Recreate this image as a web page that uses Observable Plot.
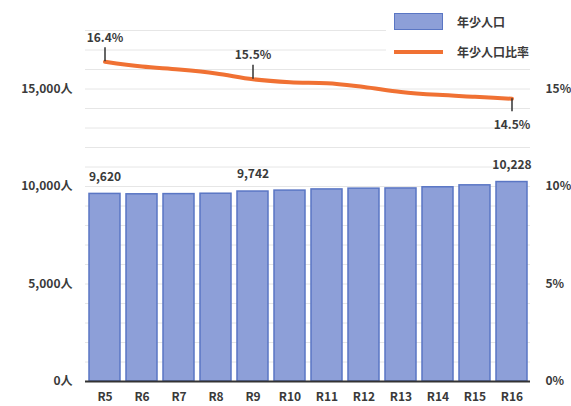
<!DOCTYPE html>
<html>
<head>
<meta charset="utf-8">
<script src="https://cdn.jsdelivr.net/npm/d3@7"></script>
<script src="https://cdn.jsdelivr.net/npm/@observablehq/plot@0.6"></script>
<style>
  html, body { margin: 0; padding: 0; background: #fff; }
  #wrap { position: relative; width: 571px; height: 406px; font-family: "Noto Sans CJK JP", "Noto Sans", sans-serif; color: #3a3a3a; }
  #legend { position: absolute; left: 386px; top: 4px; width: 172px; height: 60px; background: #fff; }
  .item { position: absolute; left: 8px; display: flex; align-items: center; font-size: 12px; font-weight: 700; }
  .swatch-bar { width: 47px; height: 15px; background: #8d9fd8; border: 1.5px solid #5a76c4; margin-right: 14px; }
  .swatch-line { width: 49px; height: 4px; background: #f07133; margin-right: 14px; }
  svg { overflow: visible; }
</style>
</head>
<body>
<div id="wrap">
  <div id="chart"></div>
  <div id="legend">
    <div class="item" style="top:9px"><div class="swatch-bar"></div><span>年少人口</span></div>
    <div class="item" style="top:39px"><div class="swatch-line"></div><span>年少人口比率</span></div>
  </div>
</div>
<script>
const years = ["R5", "R6", "R7", "R8", "R9", "R10", "R11", "R12", "R13", "R14", "R15", "R16"];
const population = [9620, 9600, 9610, 9630, 9742, 9790, 9850, 9890, 9900, 9960, 10060, 10228];
const ratio = [16.4, 16.15, 16.0, 15.8, 15.5, 15.35, 15.3, 15.1, 14.85, 14.7, 14.6, 14.5];
const popLabelYears = ["R5", "R9", "R16"];
const ratioUpYears = ["R5", "R9"];
const ratioDownYears = ["R16"];
const leftTicks = [0, 5000, 10000, 15000];
const rightTicks = [0, 5, 10, 15];

const data = years.map((y, i) => ({year: y, pop: population[i], ratio: ratio[i], rv: ratio[i] * 1000}));
const popLabels = data.filter(d => popLabelYears.includes(d.year));
const ratioUp = data.filter(d => ratioUpYears.includes(d.year));
const ratioDown = data.filter(d => ratioDownYears.includes(d.year));

const fmtPop = d3.format(",");
const textColor = "#3a3a3a";

const chart = Plot.plot({
  width: 571,
  height: 406,
  marginLeft: 85,
  marginRight: 41,
  marginTop: 30,
  marginBottom: 25,
  style: {fontFamily: "'Noto Sans CJK JP', 'Noto Sans', sans-serif", fontSize: "12px", fontWeight: 700, color: textColor, background: "#fff", overflow: "visible"},
  x: {type: "band", domain: years, paddingInner: 0.17, paddingOuter: 0.06, label: null},
  y: {domain: [0, 18000], label: null},
  marks: [
    Plot.ruleY(d3.range(1000, 19000, 1000), {stroke: "#e6e6e6", strokeWidth: 1}),
    Plot.barY(data, {x: "year", y: "pop", fill: "#8d9fd8", stroke: "#5a76c4", strokeWidth: 1.5}),
    Plot.ruleY([0], {stroke: "#333", strokeWidth: 2}),
    Plot.axisX({tickSize: 0, tickPadding: 11, label: null, fill: textColor}),
    Plot.axisY({anchor: "left", ticks: leftTicks, tickFormat: d => fmtPop(d) + "人", tickSize: 0, tickPadding: 13, label: null, fill: textColor}),
    Plot.axisY({anchor: "right", ticks: rightTicks.map(v => v * 1000), tickFormat: d => (d / 1000) + "%", tickSize: 0, tickPadding: 15, label: null, fill: textColor}),
    Plot.line(data, {x: "year", y: "rv", stroke: "#f07133", strokeWidth: 4, curve: "monotone-x"}),
    Plot.ruleX(ratioUp, {x: "year", y1: "rv", y2: "rv", insetTop: -14, stroke: "#333", strokeWidth: 1.5}),
    Plot.ruleX(ratioDown, {x: "year", y1: "rv", y2: "rv", insetBottom: -13, stroke: "#333", strokeWidth: 1.5}),
    Plot.text(ratioUp, {x: "year", y: "rv", text: d => d.ratio.toFixed(1) + "%", dy: -24, fill: textColor}),
    Plot.text(ratioDown, {x: "year", y: "rv", text: d => d.ratio.toFixed(1) + "%", dy: 26, fill: textColor}),
    Plot.text(popLabels, {x: "year", y: "pop", text: d => fmtPop(d.pop), dy: -17, fill: textColor})
  ]
});
document.getElementById("chart").appendChild(chart);
</script>
</body>
</html>
